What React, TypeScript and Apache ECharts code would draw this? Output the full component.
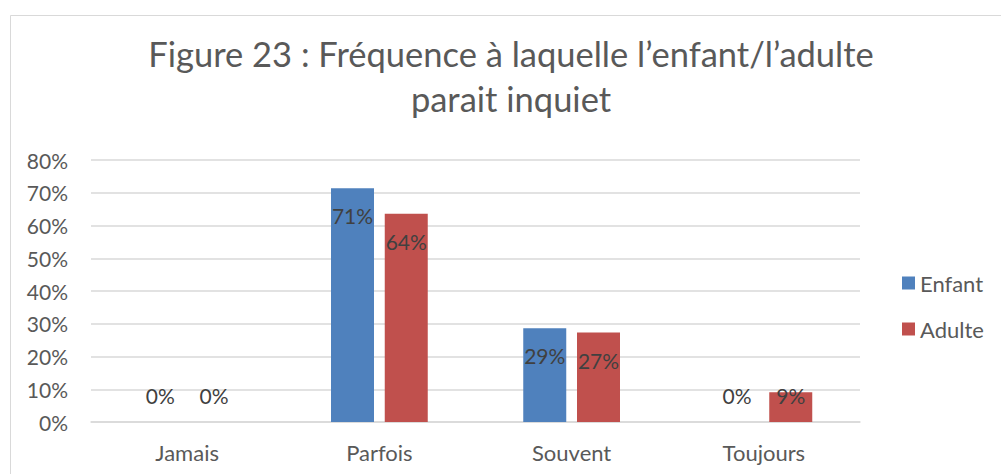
import React, { useEffect, useRef } from "react";
import * as echarts from "echarts";

const categories = ["Jamais", "Parfois", "Souvent", "Toujours"];
const enfantValues = [0, 71.4, 28.6, 0];
const adulteValues = [0, 63.6, 27.3, 9.1];
const seriesNames = ["Enfant", "Adulte"];
const yTicks = { min: 0, max: 80, interval: 10 };
const titleText = "Figure 23 : Fréquence à laquelle l’enfant/l’adulte\nparait inquiet";

const FONT = "Lato";
const TEXT = "#595959";
const LABEL = "#404040";

function labelFor(v: number) {
  if (v === 0) return { position: "top", distance: 16 };
  if (v < 15) return { position: "insideTop", distance: -7 };
  return { position: "insideTop", distance: 17 };
}

function toData(vals: number[]) {
  return vals.map((v) => ({ value: v, label: labelFor(v) }));
}

export default function App() {
  const ref = useRef<HTMLDivElement>(null);
  useEffect(() => {
    if (!ref.current) return;
    const chart = echarts.init(ref.current, null, { renderer: "svg" });
    chart.setOption({
      animation: false,
      backgroundColor: "#ffffff",
      textStyle: { fontFamily: FONT },
      title: {
        text: titleText,
        left: 511,
        top: 31,
        padding: 0,
        textAlign: "center",
        textStyle: {
          fontFamily: FONT,
          fontSize: 34.5,
          fontWeight: "normal",
          color: TEXT,
          lineHeight: 45,
          align: "center",
        },
      },
      graphic: [
        {
          type: "rect",
          shape: { x: 10.5, y: 15.5, width: 1100, height: 600 },
          style: { fill: "none", stroke: "#D9D9D9", lineWidth: 1 },
          silent: true,
        },
      ],
      legend: {
        orient: "vertical",
        left: 902,
        top: 272,
        padding: 0,
        itemWidth: 13,
        itemHeight: 13,
        itemGap: 24,
        icon: "rect",
        data: seriesNames,
        textStyle: { fontFamily: FONT, fontSize: 22, color: TEXT },
      },
      grid: { left: 91, right: 141, top: 160, bottom: 52, containLabel: false },
      xAxis: {
        type: "category",
        data: categories,
        axisLine: { show: true, lineStyle: { color: "#D9D9D9", width: 1.5 } },
        axisTick: { show: false },
        axisLabel: { fontFamily: FONT, fontSize: 22, color: TEXT, margin: 19 },
      },
      yAxis: {
        type: "value",
        min: yTicks.min,
        max: yTicks.max,
        interval: yTicks.interval,
        axisLine: { show: false },
        axisTick: { show: false },
        splitLine: { lineStyle: { color: "#D9D9D9", width: 1.5 } },
        axisLabel: {
          fontFamily: FONT,
          fontSize: 21,
          color: TEXT,
          margin: 23,
          formatter: "{value}%",
        },
      },
      series: [
        {
          name: seriesNames[0],
          type: "bar",
          data: toData(enfantValues),
          barWidth: 43,
          barGap: "25%",
          itemStyle: { color: "#4F81BD" },
          label: {
            show: true,
            fontFamily: FONT,
            fontSize: 21,
            color: LABEL,
            formatter: (p: any) => Math.round(p.value) + "%",
          },
        },
        {
          name: seriesNames[1],
          type: "bar",
          data: toData(adulteValues),
          barWidth: 43,
          barGap: "25%",
          itemStyle: { color: "#C0504D" },
          label: {
            show: true,
            fontFamily: FONT,
            fontSize: 21,
            color: LABEL,
            formatter: (p: any) => Math.round(p.value) + "%",
          },
        },
      ],
    });
    return () => chart.dispose();
  }, []);
  return (
    <div
      ref={ref}
      style={{ position: "fixed", left: 0, top: 0, width: 1001, height: 474 }}
    />
  );
}
